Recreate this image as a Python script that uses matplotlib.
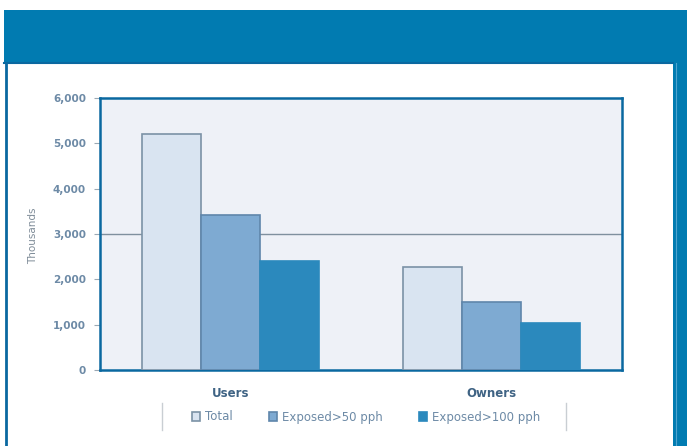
import matplotlib.pyplot as plt
from matplotlib.patches import Rectangle
from matplotlib.lines import Line2D
import numpy as np

# values in thousands
groups = ['Users', 'Owners']
series = ['Total', 'Exposed>50 pph', 'Exposed>100 pph']
total = [5200, 2270]
exposed_50 = [3420, 1510]
exposed_100 = [2400, 1040]
yticks = [0, 1000, 2000, 3000, 4000, 5000, 6000]

fills = ['#d9e4f1', '#7eaad2', '#2b89bd']
edges = ['#7b92a6', '#5f86ab', '#2b89bd']
banner = '#017bb1'
label_col = '#6d8aa6'

fig = plt.figure(figsize=(6.87, 4.46), dpi=100)
fig.patch.set_facecolor('white')

# header band and side strip
fig.add_artist(Rectangle((4 / 687, 383 / 446), 1, 53 / 446, transform=fig.transFigure,
                         facecolor=banner, edgecolor='none', zorder=0))
fig.add_artist(Rectangle((673 / 687, 0), 14 / 687, 383 / 446, transform=fig.transFigure,
                         facecolor=banner, edgecolor='none', zorder=0))
fig.add_artist(Line2D([676 / 687, 676 / 687], [0, 383 / 446], transform=fig.transFigure,
                      color='#4fa3cf', lw=0.8))
fig.add_artist(Line2D([6 / 687, 6 / 687], [0, 383 / 446], transform=fig.transFigure,
                      color='#0a68a0', lw=2))
fig.add_artist(Line2D([4 / 687, 673 / 687], [383 / 446, 383 / 446], transform=fig.transFigure,
                      color='#0a68a0', lw=1.5))

ax = fig.add_axes([100 / 687, 76 / 446, 522 / 687, 272 / 446])
ax.set_facecolor('#eef1f7')

x = np.arange(len(groups))
w = 0.225
for i, (vals, fc, ec) in enumerate(zip([total, exposed_50, exposed_100], fills, edges)):
    ax.bar(x + (i - 1) * w, vals, width=w, color=fc, edgecolor=ec, linewidth=1.2,
           label=series[i], zorder=3)

ax.axhline(3000, color='#7f909e', lw=1, zorder=2)
ax.set_xlim(-0.5, 1.5)
ax.set_ylim(0, 6000)
ax.set_yticks(yticks)
ax.set_yticklabels([f'{v:,}' for v in yticks], fontsize=7.5, color=label_col, fontweight='bold')
ax.tick_params(axis='y', length=4, color='#9aa8b4', pad=6)
ax.set_xticks(x)
ax.set_xticklabels(groups, fontsize=8.5, fontweight='bold', color='#3f6384')
ax.tick_params(axis='x', length=0, pad=12)
for s in ax.spines.values():
    s.set_color('#0a68a0')
    s.set_linewidth(1.8)

fig.text(33 / 687, 1 - 236 / 446, 'Thousands', rotation=90, ha='center', va='center',
         fontsize=7.5, color='#7f8c98')

handles, labels = ax.get_legend_handles_labels()
leg = fig.legend(handles, labels, loc='center', bbox_to_anchor=(366 / 687, 1 - 417 / 446),
                 ncol=3, frameon=False, fontsize=8.5, handlelength=0.7, handleheight=0.7,
                 columnspacing=3.1, handletextpad=0.4)
for t in leg.get_texts():
    t.set_color(label_col)

for xp in (162, 566):
    fig.add_artist(Line2D([xp / 687, xp / 687], [1 - 430 / 446, 1 - 403 / 446],
                          transform=fig.transFigure, color='#c9ced3', lw=1))

fig.savefig('out.png', dpi=100)
